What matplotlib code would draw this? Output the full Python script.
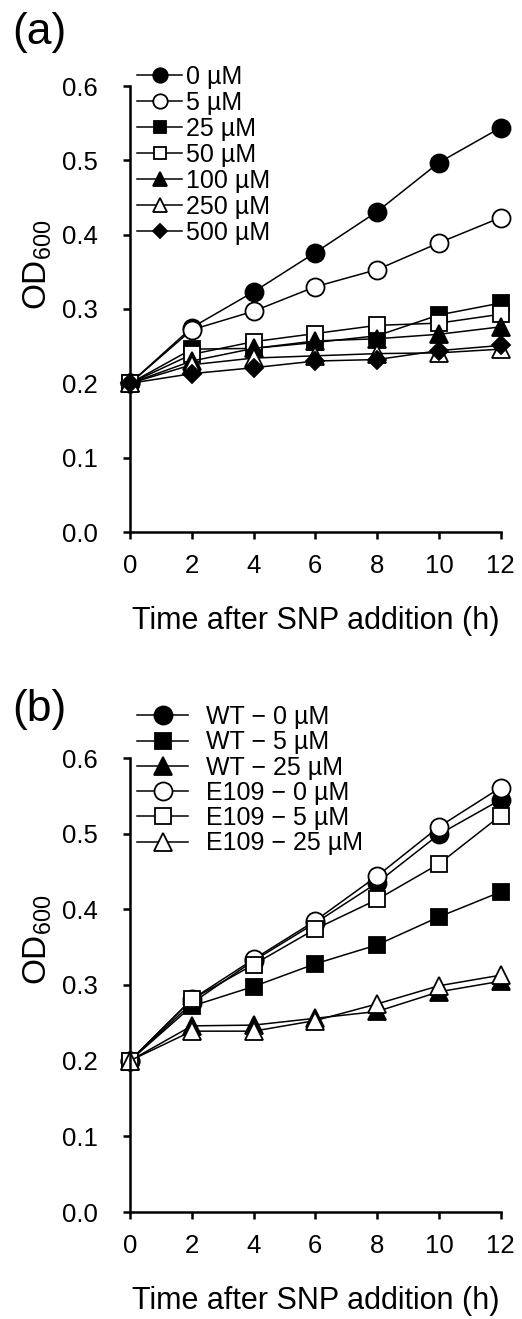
import matplotlib
matplotlib.use("Agg")
import matplotlib.pyplot as plt

plt.rcParams['font.family'] = ['Liberation Sans', 'DejaVu Sans']
plt.rcParams['mathtext.fontset'] = 'custom'
plt.rcParams['mathtext.rm'] = 'Liberation Sans'
plt.rcParams['mathtext.default'] = 'regular'

# time after SNP addition (h)
hours = [0, 2, 4, 6, 8, 10, 12]

# panel (a): SNP concentrations
labels_a = ["0 µM", "5 µM", "25 µM", "50 µM", "100 µM", "250 µM", "500 µM"]
od_0 = [0.200, 0.275, 0.323, 0.376, 0.431, 0.497, 0.544]
od_5 = [0.200, 0.272, 0.297, 0.330, 0.353, 0.389, 0.423]
od_25 = [0.200, 0.246, 0.247, 0.255, 0.264, 0.292, 0.308]
od_50 = [0.200, 0.239, 0.256, 0.267, 0.278, 0.281, 0.293]
od_100 = [0.200, 0.230, 0.247, 0.257, 0.260, 0.266, 0.276]
od_250 = [0.200, 0.225, 0.234, 0.237, 0.240, 0.241, 0.246]
od_500 = [0.200, 0.213, 0.221, 0.230, 0.232, 0.244, 0.251]

# panel (b): WT vs E109
labels_b = ["WT − 0 µM", "WT − 5 µM", "WT − 25 µM",
            "E109 − 0 µM", "E109 − 5 µM", "E109 − 25 µM"]
wt_0 = [0.200, 0.276, 0.332, 0.382, 0.435, 0.499, 0.545]
wt_5 = [0.200, 0.272, 0.298, 0.328, 0.353, 0.390, 0.423]
wt_25 = [0.200, 0.246, 0.247, 0.256, 0.265, 0.291, 0.305]
e109_0 = [0.200, 0.281, 0.334, 0.385, 0.444, 0.509, 0.561]
e109_5 = [0.200, 0.281, 0.327, 0.374, 0.413, 0.460, 0.524]
e109_25 = [0.200, 0.239, 0.239, 0.253, 0.275, 0.299, 0.313]

styles_a = [("o", "k", 13), ("o", "w", 13), ("s", "k", 11.5), ("s", "w", 11.5),
            ("^", "k", 12.5), ("^", "w", 12.5), ("D", "k", 9)]
styles_b = [("o", "k", 13), ("s", "k", 11.5), ("^", "k", 12.5),
            ("o", "w", 13), ("s", "w", 11.5), ("^", "w", 12.5)]

W, H = 522, 1319
fig = plt.figure(figsize=(W / 100, H / 100), dpi=100)
ax_a = fig.add_axes([130 / W, 1 - 532 / H, 370.7 / W, 446 / H])
ax_b = fig.add_axes([130 / W, 1 - 1212 / H, 370.7 / W, 454 / H])


def draw(ax, series, styles):
    for ys, (m, fc, ms) in zip(series, styles):
        ax.plot(hours, ys, color="k", lw=1.1, marker=m, ms=ms,
                mfc=fc, mec="k", mew=1.3, clip_on=False)
    ax.set_xlim(0, 12)
    ax.set_ylim(0, 0.6)
    ax.set_xticks(range(0, 13, 2))
    ax.set_yticks([0.0, 0.1, 0.2, 0.3, 0.4, 0.5, 0.6])
    ax.set_yticklabels(["0.0", "0.1", "0.2", "0.3", "0.4", "0.5", "0.6"])
    for s in ["top", "right"]:
        ax.spines[s].set_visible(False)
    for s in ["left", "bottom"]:
        ax.spines[s].set_linewidth(1.8)
    ax.tick_params(axis="both", direction="out", length=5, width=1.8,
                   labelsize=18.5, color="k")
    ax.tick_params(axis="y", pad=18)
    ax.tick_params(axis="x", pad=11)
    ax.set_xlabel("Time after SNP addition (h)", fontsize=22, labelpad=20)
    ax.set_ylabel("OD$_{600}$", fontsize=24)
    ax.yaxis.set_label_coords(-0.205, 0.6)


draw(ax_a, [od_0, od_5, od_25, od_50, od_100, od_250, od_500], styles_a)
draw(ax_b, [wt_0, wt_5, wt_25, e109_0, e109_5, e109_25], styles_b)

ax_a.legend(labels_a, loc="upper left", bbox_to_anchor=(137 / W, 1 - 65 / H),
            bbox_transform=fig.transFigure, frameon=False, fontsize=18,
            borderpad=0, borderaxespad=0, labelspacing=0.08,
            handlelength=1.8, handletextpad=0.15, markerscale=0.8)
ax_b.legend(labels_b, loc="upper left", bbox_to_anchor=(137 / W, 1 - 705 / H),
            bbox_transform=fig.transFigure, frameon=False, fontsize=18,
            borderpad=0, borderaxespad=0, labelspacing=0.05,
            handlelength=2.05, handletextpad=0.7)

fig.text(12 / W, 1 - 12 / H, "(a)", fontsize=32, va="top", ha="left")
fig.text(12 / W, 1 - 689 / H, "(b)", fontsize=32, va="top", ha="left")

plt.savefig("out.png", dpi=100)
